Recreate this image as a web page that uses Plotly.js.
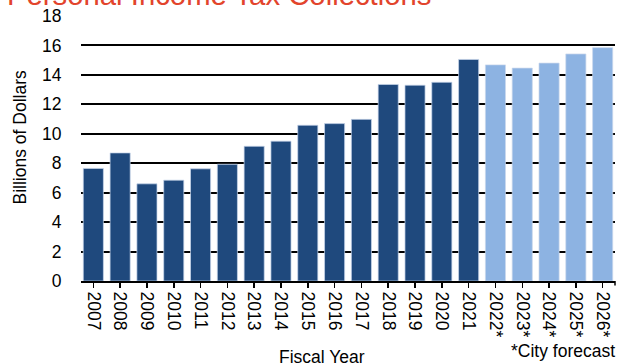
<!DOCTYPE html>
<html>
<head>
<meta charset="utf-8">
<script src="https://cdn.plot.ly/plotly-3.0.1.min.js"></script>
<style>html,body{margin:0;padding:0;background:#fff;}#chart{width:622px;height:364px;}</style>
</head>
<body>
<div id="chart"></div>
<script>
const years = ["2007","2008","2009","2010","2011","2012","2013","2014","2015","2016","2017","2018","2019","2020","2021","2022*","2023*","2024*","2025*","2026*"];
const collections = [7.65, 8.7, 6.6, 6.85, 7.62, 7.93, 9.15, 9.5, 10.58, 10.69, 10.98, 13.35, 13.3, 13.5, 15.05, 14.68, 14.46, 14.8, 15.42, 15.85];
const forecast = [false,false,false,false,false,false,false,false,false,false,false,false,false,false,false,true,true,true,true,true];
const yTicks = [0,2,4,6,8,10,12,14,16,18];

const ACTUAL = "#1F497D";
const FORECAST = "#8DB3E2";
const FONT = "Liberation Sans, Arial, sans-serif";

const trace = {
  type: "bar",
  x: years,
  y: collections,
  marker: {
    color: forecast.map(f => f ? FORECAST : ACTUAL),
    line: {color: "rgba(200,215,235,0.9)", width: 0.8}
  },
  hoverinfo: "x+y"
};

const layout = {
  width: 622, height: 364,
  margin: {l: 81, r: 7, t: 15.5, b: 83},
  paper_bgcolor: "#fff", plot_bgcolor: "#fff",
  bargap: 0.25,
  showlegend: false,
  font: {family: FONT, size: 18, color: "#000"},
  xaxis: {
    type: "category",
    range: [-0.46, 19.46],
    showline: true, linecolor: "#000", linewidth: 2,
    ticks: "outside", ticklen: 5, tickwidth: 1.5, tickcolor: "#000",
    tickangle: 90,
    tickfont: {family: FONT, size: 17.5, color: "#000"},
    showgrid: false, zeroline: false
  },
  yaxis: {
    range: [0, 18],
    tickvals: yTicks,
    ticktext: yTicks.map(String),
    showgrid: true, gridcolor: "#000", gridwidth: 2,
    zeroline: false, showline: false,
    ticks: "outside", ticklen: 15, tickcolor: "rgba(0,0,0,0)",
    tickfont: {family: FONT, size: 17.5, color: "#000"}
  },
  shapes: [
    {type: "line", xref: "paper", yref: "paper", x0: 1, x1: 1, y0: 0, y1: -0.017, line: {color: "#000", width: 1.5}}
  ],
  annotations: [
    {text: "Personal Income Tax Collections", xref: "paper", yref: "paper", x: -0.142, y: 1.012,
     xanchor: "left", yanchor: "bottom", showarrow: false,
     font: {family: FONT, size: 29.3, color: "#E2442C"}},
    {text: "Billions of Dollars", xref: "paper", yref: "paper", x: -0.115, y: 0.54,
     xanchor: "center", yanchor: "middle", textangle: -90, showarrow: false,
     font: {family: FONT, size: 17.5, color: "#000"}},
    {text: "Fiscal Year", xref: "paper", yref: "paper", x: 0.452, y: -0.286,
     xanchor: "center", yanchor: "middle", showarrow: false,
     font: {family: FONT, size: 17.5, color: "#000"}},
    {text: "*City forecast", xref: "paper", yref: "paper", x: 1.003, y: -0.263,
     xanchor: "right", yanchor: "middle", showarrow: false,
     font: {family: FONT, size: 17.5, color: "#000"}}
  ]
};

Plotly.newPlot("chart", [trace], layout, {displayModeBar: false, staticPlot: true});
</script>
</body>
</html>
